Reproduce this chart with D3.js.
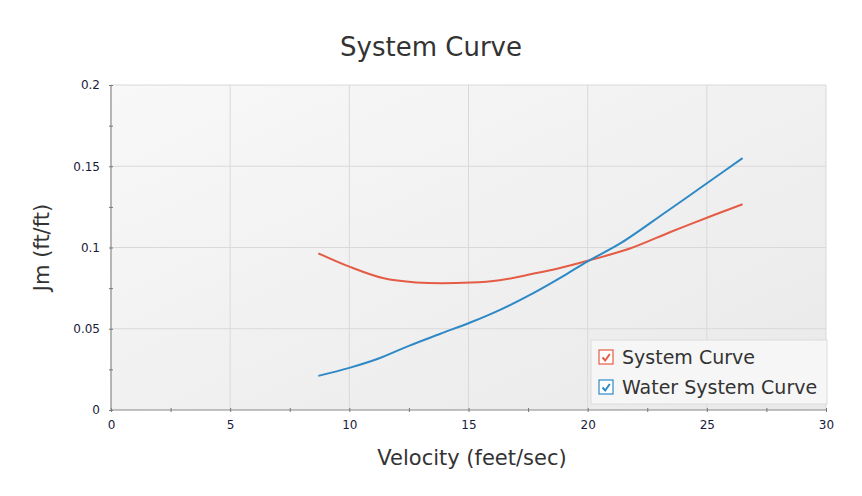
<!DOCTYPE html>
<html>
<head>
<meta charset="utf-8">
<script src="https://cdn.jsdelivr.net/npm/d3@7"></script>
<style>
	body { margin: 0; background: #fff; }
	text { font-family: 'DejaVu Sans', sans-serif; }
</style>
</head>
<body>
<svg id="chart" width="862" height="496"></svg>
<script>
// series data
var systemX = [8.7, 10, 11.4, 12.8, 15.1, 16.3, 17.7, 18.8, 20, 21.8, 23.5, 25.3, 26.5];
var systemY = [0.0964, 0.0882, 0.0812, 0.0785, 0.0784, 0.0798, 0.0838, 0.0872, 0.0918, 0.0995, 0.1097, 0.12, 0.1266];
var waterX = [8.7, 10, 11.2, 12.5, 13.8, 15.1, 16.3, 17.7, 19.1, 20, 21.4, 23.3, 25.3, 26.5];
var waterY = [0.021, 0.0259, 0.0315, 0.0395, 0.0468, 0.0540, 0.0615, 0.0718, 0.0835, 0.0915, 0.1028, 0.122, 0.1426, 0.155];
var xTicks = [0, 5, 10, 15, 20, 25, 30];
var yTicks = [0, 0.05, 0.1, 0.15, 0.2];
var seriesNames = ['System Curve', 'Water System Curve'];

var svg = d3.select('#chart'),
	margin = { top: 85, right: 36, bottom: 86, left: 111 },
	width = 862 - margin.left - margin.right,
	height = 496 - margin.top - margin.bottom,
	g = svg.append('g').attr('transform', 'translate(' + margin.left + ',' + margin.top + ')');

var colors = ['#e45c45', '#2e89c6'];

var defs = svg.append('defs');
var grad = defs.append('linearGradient').attr('id', 'bg').attr('x1', '0').attr('y1', '0').attr('x2', '1').attr('y2', '1');
grad.append('stop').attr('offset', '0%').attr('stop-color', '#f8f8f8');
grad.append('stop').attr('offset', '100%').attr('stop-color', '#e9e9e9');

var scaleX = d3.scaleLinear().domain([0, 30]).range([0, width]);
var scaleY = d3.scaleLinear().domain([0, 0.2]).range([height, 0]);

g.append('rect').attr('width', width).attr('height', height).attr('fill', 'url(#bg)');

// grid
g.append('g').selectAll('line').data(xTicks.slice(1)).enter().append('line')
	.attr('x1', function(d) { return scaleX(d); }).attr('x2', function(d) { return scaleX(d); })
	.attr('y1', 0).attr('y2', height).attr('stroke', '#d9d9d9');
g.append('g').selectAll('line').data(yTicks.slice(1)).enter().append('line')
	.attr('y1', function(d) { return scaleY(d); }).attr('y2', function(d) { return scaleY(d); })
	.attr('x1', 0).attr('x2', width).attr('stroke', '#d9d9d9');

// axes
var xAxis = d3.axisBottom(scaleX).tickValues(d3.range(0, 30.1, 2.5)).tickSize(4).tickPadding(6)
	.tickFormat(function(d) { return xTicks.indexOf(d) >= 0 ? d : ''; });
var yAxis = d3.axisLeft(scaleY).tickValues(d3.range(0, 0.2001, 0.025)).tickSize(4).tickPadding(7)
	.tickFormat(function(d) {
		var r = Math.round(d * 1000) / 1000;
		return yTicks.indexOf(r) >= 0 ? r + '' : '';
	});

var svg_xAxis = g.append('g').attr('transform', 'translate(0,' + height + ')').call(xAxis);
var svg_yAxis = g.append('g').call(yAxis);
[svg_xAxis, svg_yAxis].forEach(function(a) {
	a.select('.domain').attr('stroke', '#888').attr('stroke-width', 1.2);
	a.selectAll('.tick line').attr('stroke', '#777').attr('transform', a === svg_xAxis ? 'translate(0,-2)' : 'translate(2,0)');
	a.selectAll('.tick text').attr('fill', '#1a1a3c').attr('font-size', 12);
});
svg_xAxis.select('.domain').attr('d', 'M0,0H' + width);
svg_yAxis.select('.domain').attr('d', 'M0,' + height + 'V0');

// lines
var line = d3.line().x(function(d) { return scaleX(d[0]); }).y(function(d) { return scaleY(d[1]); }).curve(d3.curveCatmullRom.alpha(0.5));
var series = [d3.zip(systemX, systemY), d3.zip(waterX, waterY)];
series.forEach(function(s, i) {
	g.append('path').datum(s).attr('d', line).attr('fill', 'none')
		.attr('stroke', colors[i]).attr('stroke-width', 2).attr('stroke-linejoin', 'round');
});

// titles
svg.append('text').attr('x', 431).attr('y', 56).attr('text-anchor', 'middle')
	.attr('font-size', 26).attr('fill', '#333').text('System Curve');
svg.append('text').attr('x', 472).attr('y', 465).attr('text-anchor', 'middle')
	.attr('font-size', 21).attr('fill', '#333').text('Velocity (feet/sec)');
svg.append('text').attr('transform', 'translate(49,' + (margin.top + height / 2) + ') rotate(-90)')
	.attr('text-anchor', 'middle').attr('font-size', 21).attr('fill', '#333').text('Jm (ft/ft)');

// legend
var lg = svg.append('g').attr('transform', 'translate(591,340)');
lg.append('rect').attr('width', 236).attr('height', 64).attr('fill', '#f6f6f6').attr('stroke', '#dcdcdc');
seriesNames.forEach(function(name, i) {
	var row = lg.append('g').attr('transform', 'translate(0,' + (17 + i * 30) + ')');
	row.append('rect').attr('x', 8).attr('y', -7).attr('width', 14).attr('height', 14)
		.attr('fill', '#fff').attr('stroke', colors[i]).attr('stroke-width', 1.2);
	row.append('path').attr('d', 'M11.5,0.5 L14.2,3.5 L18.8,-3').attr('fill', 'none')
		.attr('stroke', colors[i]).attr('stroke-width', 2);
	row.append('text').attr('x', 31).attr('y', 7).attr('font-size', 19).attr('fill', '#333').text(name);
});
</script>
</body>
</html>
